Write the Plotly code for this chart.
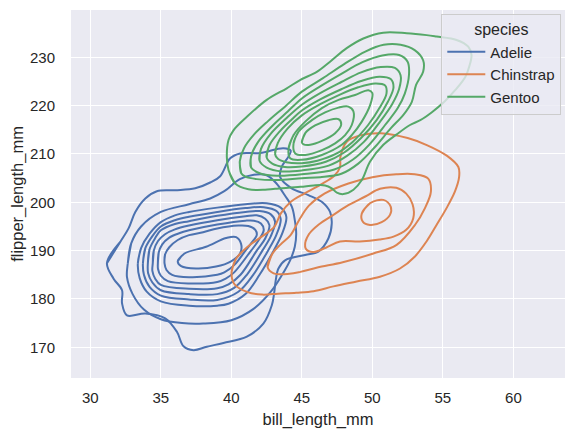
import plotly.graph_objects as go

# ---- contour lines (bill_length_mm, flipper_length_mm) ----
adelie_c1 = [(31.18,187.4),(32.12,191.8),(32.71,194.6),(33.19,198.0),(33.90,200.8),(34.72,202.3),(36.02,202.5),
             (37.44,202.9),(38.50,204.1),(39.21,205.4),(39.92,209.1),(40.62,210.1),(42.04,210.2),(43.69,211.2),
             (44.21,210.7),(44.04,209.4),(43.58,207.4),(43.46,205.2),(44.28,202.9),(45.46,201.5),(46.41,200.1),
             (47.00,198.0),(47.12,195.6),(46.88,192.5),(46.17,189.8),(45.23,189.1),(43.81,188.0),(43.34,186.3),
             (43.15,183.9),(43.03,181.1),(42.87,178.7),(42.27,174.9),(41.10,172.2),(39.44,170.9),(38.26,170.1),
             (37.32,169.4),(36.61,170.2),(36.14,173.2),(35.31,176.0),(33.90,177.0),(32.60,176.6),(32.25,179.1),
             (32.25,181.8),(31.65,184.2)]
adelie_c2 = [(32.66,187.4),(32.9,191.5),(33.6,195.0),(35.0,198.0),(37.0,199.6),(38.5,200.8),(39.5,202.3),
             (40.6,204.8),(41.6,205.7),(42.5,205.6),(43.2,203.9),(43.8,201.4),(44.3,199.0),(44.5,196.3),
             (44.6,193.5),(44.5,190.8),(44.2,188.2),(43.6,185.0),(42.8,181.5),(41.6,178.0),(40.0,175.6),
             (38.0,174.9),(36.5,175.0),(35.0,175.8),(33.8,177.8),(33.0,181.0),(32.6,184.5)]
adelie_c3 = [(33.37,187.4),(33.6,190.5),(34.2,193.5),(35.0,195.9),(36.0,197.3),(37.0,198.0),(39.0,198.9),
             (41.0,199.6),(42.5,199.8),(43.5,198.9),(43.9,197.0),(43.6,193.5),(43.0,190.0),(42.0,185.0),
             (41.0,181.0),(39.8,179.0),(39.0,178.6),(37.0,178.6),(35.0,179.5),(34.0,181.5),(33.5,184.3)]
adelie_c4 = [(33.73,187.4),(33.9,190.5),(34.4,193.0),(35.0,195.0),(36.0,196.3),(37.0,197.0),(39.0,198.0),
             (41.0,198.8),(42.3,199.0),(43.2,198.2),(43.5,196.5),(43.2,193.3),(42.6,190.0),(41.55,185.0),
             (40.5,181.5),(39.0,179.8),(37.0,179.9),(35.0,180.7),(34.2,182.5),(33.8,185.0)]
adelie_c5 = [(34.08,187.4),(34.2,190.3),(34.6,192.6),(35.0,194.2),(36.0,195.5),(37.0,196.1),(39.0,197.2),
             (41.0,198.0),(42.0,198.2),(42.8,197.5),(43.1,196.0),(42.8,193.0),(42.2,190.0),(41.1,185.0),
             (40.2,182.3),(39.0,181.0),(37.0,181.0),(35.0,181.8),(34.4,183.4),(34.1,185.3)]
adelie_c6 = [(34.43,187.4),(34.5,190.0),(34.8,192.0),(35.3,193.4),(36.0,194.4),(37.0,195.2),(39.0,196.3),
             (41.0,197.1),(41.8,197.3),(42.4,196.6),(42.7,195.3),(42.4,192.5),(41.8,190.0),(40.65,185.0),
             (39.8,183.0),(39.0,182.2),(37.0,182.1),(35.0,182.9),(34.6,184.2),(34.4,185.8)]
adelie_c7 = [(34.79,187.4),(34.85,189.6),(35.1,191.3),(35.6,192.7),(36.3,193.6),(37.0,194.2),(39.0,195.4),
             (41.0,196.2),(41.6,196.2),(42.1,195.6),(42.3,194.3),(41.9,192.0),(41.4,190.0),(40.2,185.5),
             (39.6,184.2),(39.0,183.5),(37.0,183.2),(35.5,183.7),(35.0,184.8),(34.8,186.2)]
adelie_c8 = [(35.26,187.4),(35.3,189.2),(35.6,190.7),(36.2,192.2),(37.0,193.2),(38.0,193.8),(39.0,194.6),
             (40.5,195.2),(41.2,195.1),(41.7,194.3),(41.8,193.2),(41.4,191.5),(41.0,190.0),(40.2,187.0),
             (39.5,185.5),(39.0,185.0),(37.0,184.5),(35.8,185.0),(35.4,186.0)]
adelie_c9 = [(36.2,187.8),(36.68,189.4),(38.21,190.8),(39.63,192.6),(40.34,192.8),(40.69,191.4),(40.62,189.4),
             (39.98,187.8),(38.92,186.7),(37.5,186.3),(36.44,186.8)]

chinstrap_c1 = [(40.02,185.6),(40.33,188.3),(41.16,190.8),(42.1,192.8),(43.04,194.9),(43.51,197.7),(44.22,200.1),
                (45.17,201.8),(46.3,203.6),(47.3,205.5),(47.7,207.2),(47.74,209.5),(48.2,212.6),(49.2,213.9),
                (50.6,214.3),(52.5,213.3),(53.9,211.8),(55.3,209.6),(56.1,207.3),(56.15,205.2),(55.85,202.2),
                (55.26,198.8),(54.55,195.3),(53.84,191.9),(53.02,188.8),(51.96,186.3),(50.54,184.6),(48.89,183.6),
                (47.24,182.6),(45.83,181.6),(44.6,181.3),(43.3,181.1),(42.2,180.9),(41.16,181.4),(40.21,183.1)]
chinstrap_c2 = [(42.57,186.6),(42.92,189.4),(43.5,191.3),(44.2,193.2),(44.8,196.3),(45.5,199.3),(46.6,201.8),
                (48.3,203.9),(50.0,205.2),(51.7,205.8),(53.0,205.8),(53.96,204.9),(54.15,202.2),(53.73,198.8),
                (53.02,195.3),(51.72,191.2),(50.07,189.4),(47.9,187.6),(46.1,186.5),(44.9,185.6),(44.11,185.2),
                (43.0,185.3)]
chinstrap_c3 = [(45.25,191.8),(45.5,193.4),(46.2,195.4),(47.24,197.4),(48.3,199.4),(49.5,201.2),(50.54,202.8),
                (51.7,203.0),(52.4,201.8),(52.85,199.6),(52.9,196.7),(52.4,194.3),(51.5,192.9),(50.5,192.3),
                (49.1,191.9),(47.7,191.9),(46.7,190.6),(45.8,189.7),(45.3,190.3)]
chinstrap_c4 = [(49.25,197.7),(49.83,199.8),(50.78,200.5),(51.3,199.1),(51.25,197.4),(50.66,195.9),(49.83,195.3),
                (49.32,196.0)]

gentoo_c1 = [(40.27,203.9),(39.8,206.7),(39.68,209.4),(39.8,212.9),(40.15,214.9),(41.1,217.7),(42.51,221.2),
             (43.93,223.6),(44.87,225.3),(46.06,227.0),(47.0,229.1),(48.18,231.9),(49.36,233.9),(50.77,235.1),
             (52.43,235.0),(53.85,234.6),(54.55,234.3),(55.97,233.6),(56.8,232.2),(57.03,230.5),(56.87,228.1),
             (56.6,226.0),(55.9,223.3),(55.1,220.8),(54.2,218.6),(53.4,217.0),(52.67,216.0),(51.7,214.0),
             (50.78,211.9),(49.83,208.4),(49.25,204.6),(48.66,202.6),(47.95,201.7),(47.48,202.0),(47.12,202.9),
             (46.65,203.5),(45.83,203.5),(44.9,203.2),(43.1,202.8),(42.39,202.6),(41.21,202.7)]
gentoo_c2 = [(40.7,206.0),(40.6,208.5),(40.9,211.2),(41.6,214.0),(42.6,216.8),(43.8,219.8),(45.0,222.9),
             (46.5,225.7),(48.0,228.6),(49.5,231.2),(50.8,232.6),(52.0,232.6),(53.0,231.5),(53.6,229.4),
             (53.6,227.0),(53.1,224.3),(52.8,220.8),(52.2,218.1),(51.3,215.3),(50.2,211.5),(49.0,208.0),
             (47.8,205.9),(46.3,205.2),(45.0,205.0),(43.2,204.6),(41.8,204.8),(41.0,205.3)]
gentoo_c3 = [(41.4,207.2),(41.4,209.5),(41.9,212.5),(42.9,215.8),(44.0,218.8),(45.0,221.5),(46.3,224.0),
             (47.8,226.6),(49.3,229.0),(50.7,230.4),(51.9,230.5),(52.5,229.1),(52.6,226.5),(52.3,222.5),
             (51.8,219.5),(50.9,216.0),(49.8,212.0),(48.6,208.8),(47.3,206.8),(45.0,205.8),(43.3,205.5),
             (42.1,205.9)]
gentoo_c4 = [(42.0,208.6),(42.1,211.0),(42.8,214.2),(43.9,217.4),(45.0,220.2),(46.3,222.6),(47.8,224.9),
             (49.2,226.9),(50.6,228.0),(51.6,227.8),(52.0,226.3),(51.9,223.5),(51.4,220.3),(50.5,216.5),
             (49.4,212.5),(48.2,209.6),(46.9,207.6),(45.0,206.6),(43.6,206.4),(42.5,207.2)]
gentoo_c5 = [(42.5,209.3),(42.7,211.8),(43.5,214.9),(44.3,217.2),(45.0,219.0),(46.3,221.3),(47.8,223.4),
             (49.2,225.1),(50.5,226.0),(51.3,225.5),(51.5,223.8),(51.1,220.8),(50.3,217.0),(49.2,213.3),
             (48.0,210.3),(46.7,208.4),(45.0,207.4),(43.8,207.3),(42.9,208.0)]
gentoo_c6 = [(43.1,210.0),(43.3,212.3),(44.0,215.3),(45.0,218.0),(46.3,220.3),(47.7,222.3),(49.0,223.8),
             (50.2,224.6),(50.9,224.2),(51.0,222.5),(50.5,219.5),(49.7,216.0),(48.6,212.5),(47.4,210.0),
             (46.1,208.6),(45.0,208.1),(43.9,208.3),(43.3,209.0)]
gentoo_c7 = [(44.06,211.2),(44.41,213.9),(45.24,216.7),(46.42,219.5),(47.6,221.2),(48.78,222.2),(49.72,223.2),
             (50.0,222.6),(49.84,220.1),(49.25,216.7),(48.54,213.9),(47.83,211.9),(46.42,209.8),(45.0,208.8),
             (44.17,209.1)]
gentoo_c8 = [(44.41,212.2),(44.76,214.6),(45.71,217.0),(46.65,218.6),(47.6,219.6),(48.3,219.8),(48.66,218.8),
             (48.54,216.0),(48.07,213.9),(47.36,212.2),(46.42,210.8),(45.24,209.8),(44.53,210.1)]
gentoo_c9 = [(45.0,212.4),(45.24,214.3),(45.94,215.9),(46.89,217.0),(47.6,217.2),(47.79,216.1),(47.36,214.3),
             (46.42,212.7),(45.59,211.9),(45.12,212.0)]

species = ["Adelie", "Chinstrap", "Gentoo"]
colors = {"Adelie": "#4c72b0", "Chinstrap": "#dd8452", "Gentoo": "#55a868"}
contours = {
    "Adelie": [adelie_c1, adelie_c2, adelie_c3, adelie_c4, adelie_c5, adelie_c6, adelie_c7, adelie_c8, adelie_c9],
    "Chinstrap": [chinstrap_c1, chinstrap_c2, chinstrap_c3, chinstrap_c4],
    "Gentoo": [gentoo_c1, gentoo_c2, gentoo_c3, gentoo_c4, gentoo_c5, gentoo_c6, gentoo_c7, gentoo_c8, gentoo_c9],
}
x_ticks = [30, 35, 40, 45, 50, 55, 60]
y_ticks = [170, 180, 190, 200, 210, 220, 230]

fig = go.Figure()
for sp in species:
    for i, pts in enumerate(contours[sp]):
        closed = pts + pts[:2]
        fig.add_trace(go.Scatter(
            x=[p[0] for p in closed], y=[p[1] for p in closed],
            mode="lines", name=sp, legendgroup=sp, showlegend=(i == 0),
            line=dict(color=colors[sp], width=2, shape="spline", smoothing=1.0),
            hoverinfo="skip"))

# the page body adds an 8px offset, so margins are reduced by 8 on the left/top
font_family = "Liberation Sans, Arial, sans-serif"
fig.update_layout(
    width=575, height=437,
    margin=dict(l=62.7, r=18, t=2, b=67.3, autoexpand=False),
    paper_bgcolor="white", plot_bgcolor="#eaeaf2",
    font=dict(family=font_family, size=15, color="#262626"),
    legend=dict(
        title=dict(text="species", side="top center", font=dict(size=16, color="#262626")),
        x=0.9925, y=0.99, xanchor="right", yanchor="top",
        bgcolor="rgba(234,234,242,0.8)", bordercolor="#cccccc", borderwidth=1,
        font=dict(size=15, color="#262626"), itemwidth=38, tracegroupgap=0,
    ),
)
fig.update_xaxes(range=[28.63, 63.66], tickvals=x_ticks, showgrid=True, gridcolor="white", gridwidth=1.2,
                 zeroline=False, showline=False, ticks="outside", ticklen=6, tickcolor="rgba(0,0,0,0)",
                 automargin=False,
                 title=dict(text="bill_length_mm", font=dict(size=16.5), standoff=8))
fig.update_yaxes(range=[163.64, 239.8], tickvals=y_ticks, showgrid=True, gridcolor="white", gridwidth=1.2,
                 zeroline=False, showline=False, ticks="outside", ticklen=12, tickcolor="rgba(0,0,0,0)",
                 automargin=False,
                 title=dict(text="flipper_length_mm", font=dict(size=16.5), standoff=6))

fig.write_html("out.html")
